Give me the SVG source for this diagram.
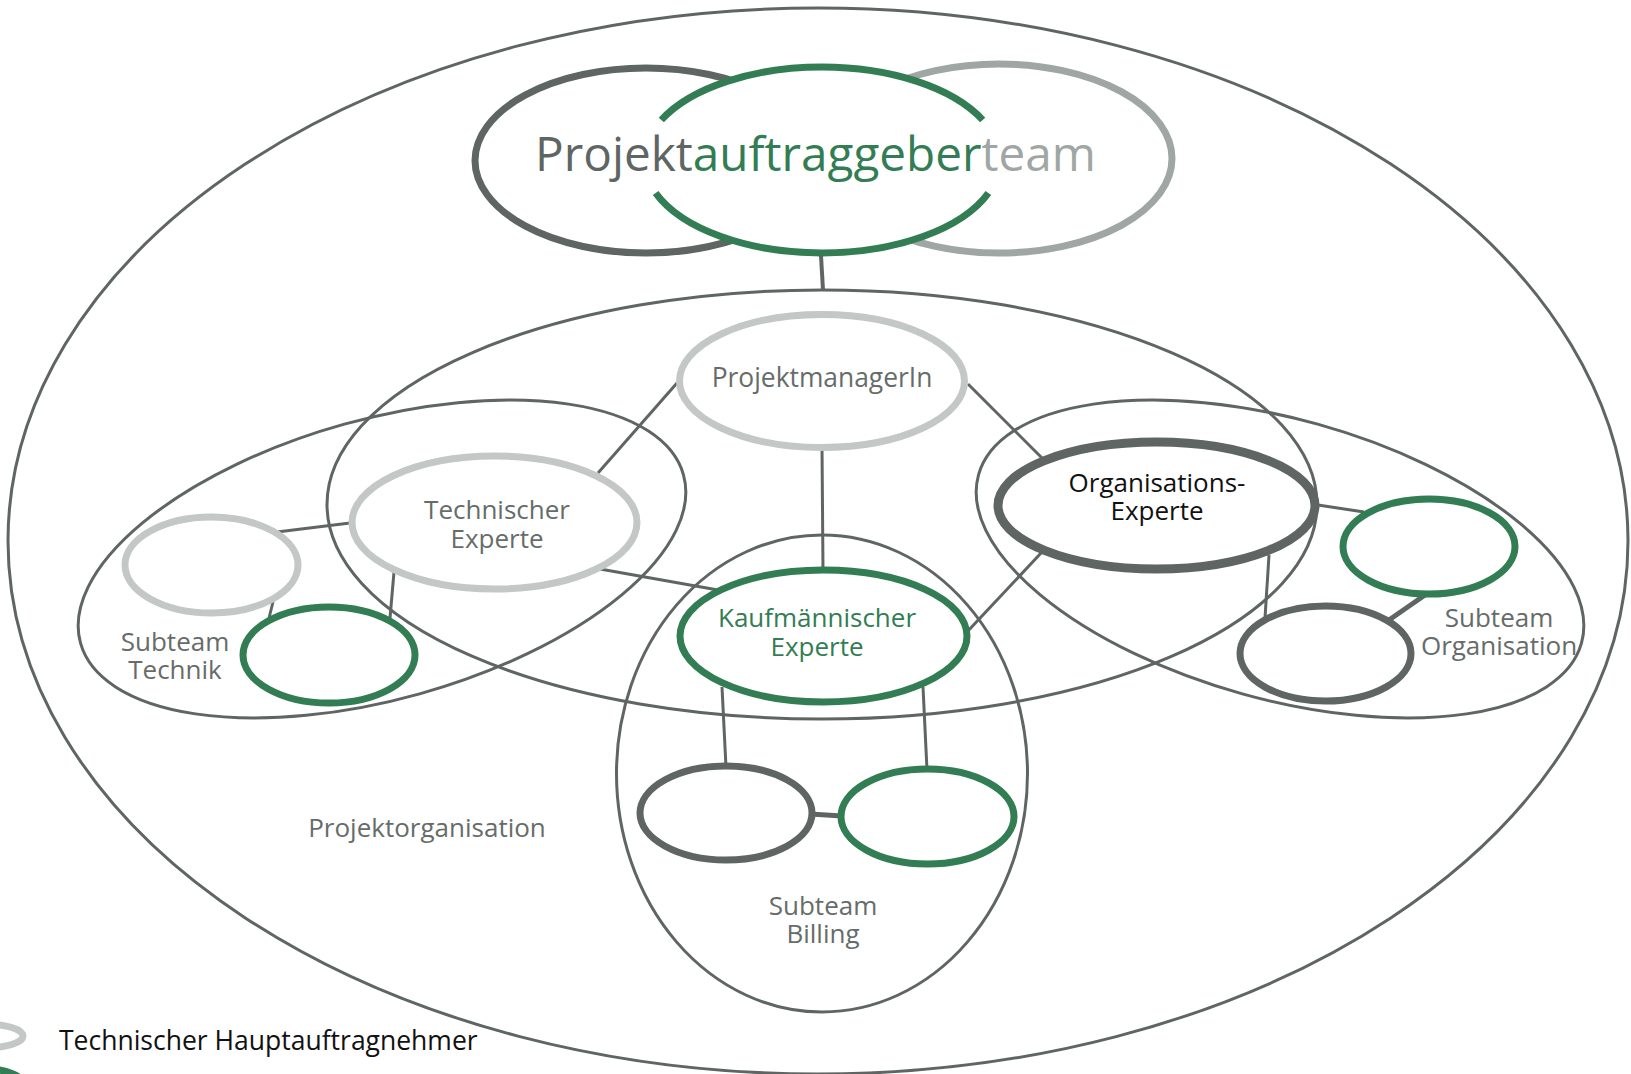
<svg xmlns="http://www.w3.org/2000/svg" width="1631" height="1074" viewBox="0 0 1631 1074">
<style>
.thin{fill:none;stroke:#5f6563;stroke-width:3}
.conn line{stroke:#5f6563;stroke-width:3}
.conn line.thick{stroke-width:5}
.nG{fill:#fff;stroke:#327d53;stroke-width:7}
.nL{fill:#fff;stroke:#c3c7c5;stroke-width:7}
.nD{fill:#fff;stroke:#5f6563;stroke-width:7}
text{font-family:"Open Sans","Noto Sans","Liberation Sans",sans-serif;font-size:26px;text-anchor:middle}
.tg{fill:#666c6a}
.tgr{fill:#327d53}
.tb{fill:#111}
</style>
<rect width="1631" height="1074" fill="#fff"/>
<g id="projektorganisation-outer">
<ellipse class="thin" cx="818" cy="541" rx="810" ry="533"/>
</g>
<g id="projektorganisation">
<ellipse class="thin" cx="822" cy="504.5" rx="495" ry="214.5"/>
<text class="tg" x="427" y="837">Projektorganisation</text>
</g>
<g id="subteam-technik">
<ellipse class="thin" cx="382" cy="559" rx="313" ry="140" transform="rotate(-15.6 382 559)"/>
<text class="tg"><tspan x="175" y="651">Subteam</tspan><tspan x="175" y="679">Technik</tspan></text>
</g>
<g id="subteam-organisation">
<ellipse class="thin" cx="1280" cy="559" rx="313" ry="140" transform="rotate(15.6 1280 559)"/>
<text class="tg"><tspan x="1499" y="627">Subteam</tspan><tspan x="1499" y="655">Organisation</tspan></text>
</g>
<g id="subteam-billing">
<ellipse class="thin" cx="822" cy="773.5" rx="205.5" ry="238.5"/>
<text class="tg"><tspan x="823" y="915">Subteam</tspan><tspan x="823" y="943">Billing</tspan></text>
</g>
<g class="conn" id="connectors">
<line x1="821" y1="256" x2="823" y2="290" style="stroke-width:4"/>
<line x1="677" y1="383" x2="598" y2="473"/>
<line x1="968" y1="384" x2="1042" y2="458"/>
<line x1="822" y1="447" x2="823" y2="570"/>
<line x1="350" y1="523" x2="277" y2="532"/>
<line x1="394" y1="572" x2="390" y2="618"/>
<line x1="273" y1="602" x2="269" y2="618"/>
<line x1="600" y1="569" x2="718" y2="590"/>
<line x1="1042" y1="552" x2="966" y2="633"/>
<line x1="1318" y1="505" x2="1364" y2="512"/>
<line x1="1269" y1="555" x2="1265" y2="618"/>
<line class="thick" x1="1425" y1="595" x2="1389" y2="620"/>
<line x1="722" y1="687" x2="726" y2="767"/>
<line x1="923" y1="687" x2="927" y2="770"/>
<line class="thick" x1="810" y1="814" x2="842" y2="816"/>
</g>
<g id="projektauftraggeberteam">
<ellipse fill="none" stroke="#5f6563" stroke-width="7" cx="646" cy="160.5" rx="171" ry="92.5"/>
<ellipse fill="none" stroke="#a0a6a4" stroke-width="7" cx="999" cy="158.5" rx="173" ry="94.5"/>
<ellipse fill="#fff" cx="822" cy="160" rx="178" ry="93"/>
<path fill="none" stroke="#327d53" stroke-width="7" d="M661.3,120 A178,93 0 0 1 982.7,120 M655.6,193 A178,93 0 0 0 988.4,193"/>
<text x="815.5" y="171" style="font-size:47.7px"><tspan fill="#5f6563">Projekt</tspan><tspan fill="#327d53">auftraggeber</tspan><tspan fill="#a0a6a4">team</tspan></text>
</g>
<g id="projektmanagerin">
<ellipse class="nL" cx="822" cy="381" rx="142.5" ry="66.5"/>
<text class="tg" x="822" y="387" style="font-size:26.4px">ProjektmanagerIn</text>
</g>
<g id="technischer-experte">
<ellipse class="nL" cx="494.5" cy="522.5" rx="142.5" ry="66.5"/>
<text class="tg"><tspan x="497" y="519">Technischer</tspan><tspan x="497" y="548">Experte</tspan></text>
</g>
<g id="kaufmaennischer-experte">
<ellipse class="nG" cx="823.5" cy="636" rx="143.5" ry="66"/>
<text class="tgr"><tspan x="817" y="627">Kaufmännischer</tspan><tspan x="817" y="656">Experte</tspan></text>
</g>
<g id="organisations-experte">
<ellipse class="nD" cx="1156.5" cy="505.5" rx="158.5" ry="63.5" style="stroke-width:9"/>
<text class="tb"><tspan x="1157" y="492">Organisations-</tspan><tspan x="1157" y="520">Experte</tspan></text>
</g>
<g id="technik-light">
<ellipse class="nL" cx="211.5" cy="565" rx="86.5" ry="48"/>
</g>
<g id="technik-green">
<ellipse class="nG" cx="329" cy="655" rx="86" ry="48"/>
</g>
<g id="org-green">
<ellipse class="nG" cx="1429" cy="546.5" rx="86" ry="47.5"/>
</g>
<g id="org-dark">
<ellipse class="nD" cx="1325.5" cy="653.5" rx="85.5" ry="47.5"/>
</g>
<g id="billing-dark">
<ellipse class="nD" cx="726" cy="813" rx="86" ry="47"/>
</g>
<g id="billing-green">
<ellipse class="nG" cx="927.5" cy="816.5" rx="86.5" ry="47.5"/>
</g>
<g id="legend">
<ellipse fill="none" stroke="#c3c7c5" stroke-width="7" cx="-15" cy="1036" rx="38" ry="12"/>
<ellipse fill="none" stroke="#327d53" stroke-width="7" cx="-15" cy="1084" rx="38" ry="15"/>
<text class="tb" x="59" y="1050" style="text-anchor:start;font-size:26.5px">Technischer Hauptauftragnehmer</text>
</g>
</svg>
